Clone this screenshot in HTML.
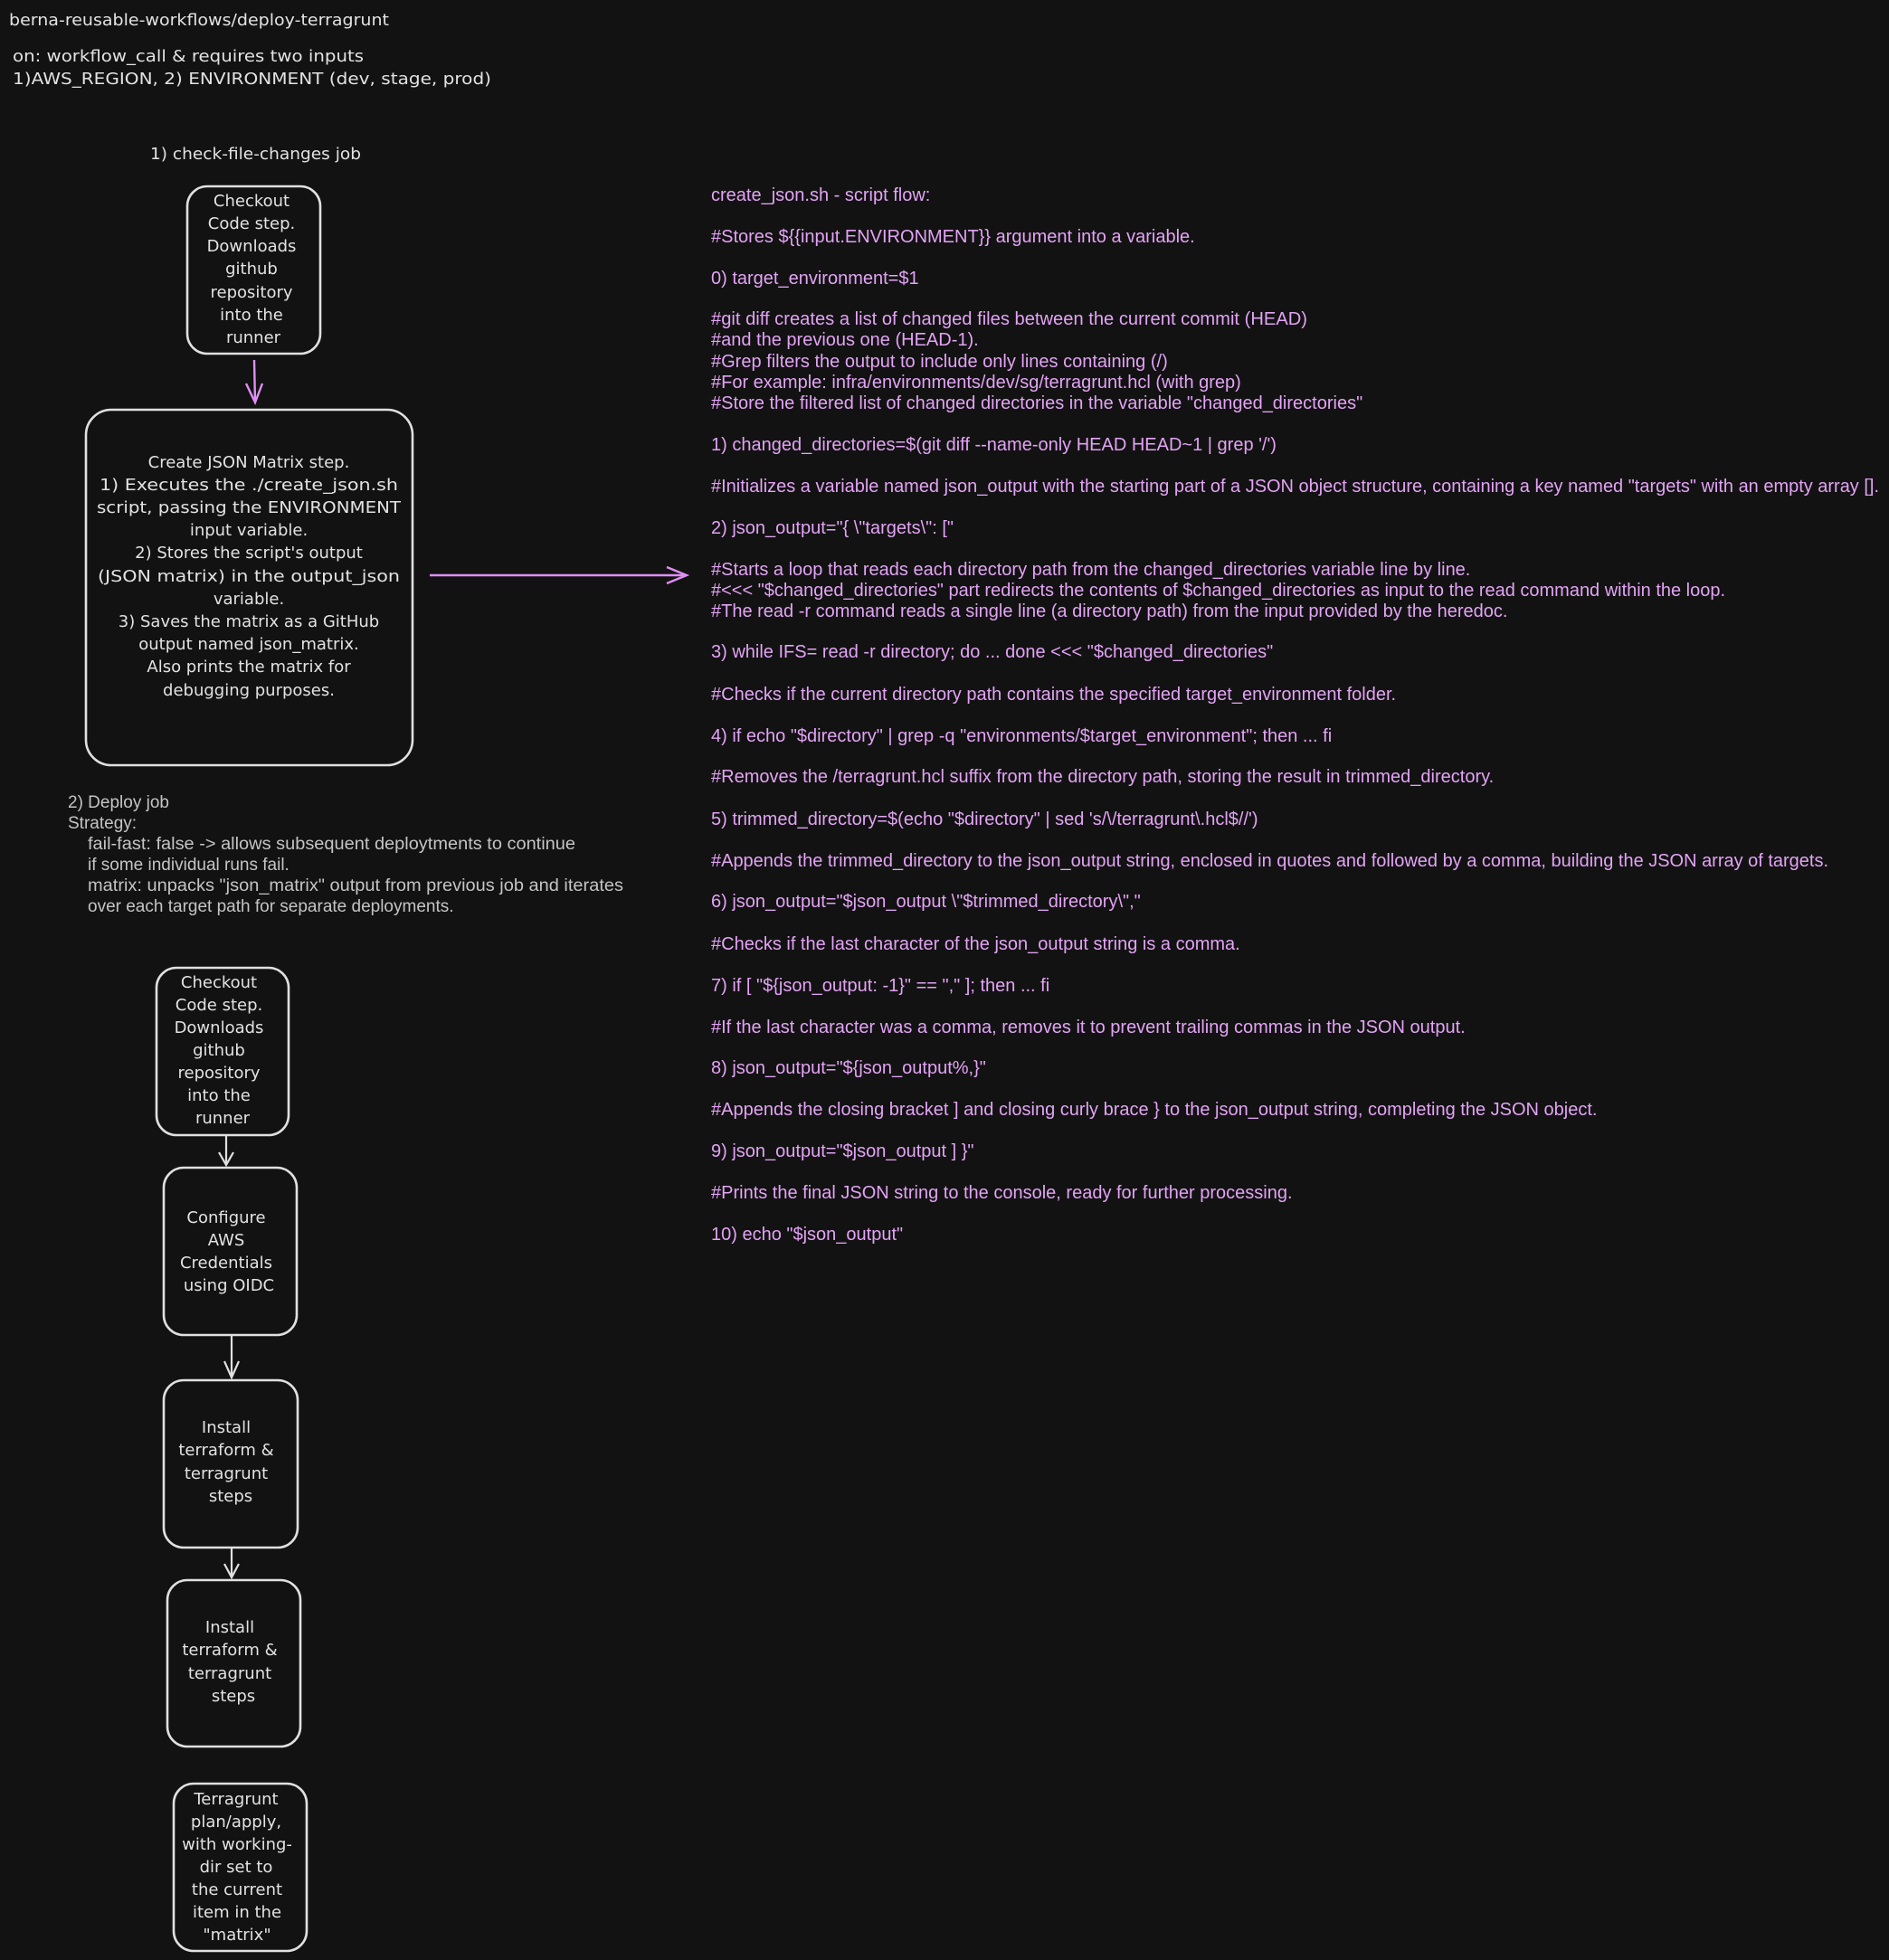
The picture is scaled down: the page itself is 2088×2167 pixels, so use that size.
<!DOCTYPE html>
<html><head><meta charset="utf-8"><style>
html,body{margin:0;padding:0;background:#121212;}
svg{display:block;}
.h{font-family:"DejaVu Sans",sans-serif;font-size:18px;fill:#e2e2e2;}
.g{font-family:"Liberation Sans",sans-serif;font-size:19px;fill:#c4c4c4;}
.p{font-family:"Liberation Sans",sans-serif;font-size:20px;fill:#e3a3f5;}
.box{fill:none;stroke:#e0e0e0;stroke-width:2.6;}
</style></head><body>
<svg width="2088" height="2167" viewBox="0 0 2088 2167" xmlns="http://www.w3.org/2000/svg">
<rect width="2088" height="2167" fill="#121212"/>
<text class="h" x="10" y="28" textLength="420" lengthAdjust="spacingAndGlyphs">berna-reusable-workflows/deploy-terragrunt</text>
<text class="h" x="14" y="68" textLength="388" lengthAdjust="spacingAndGlyphs">on: workflow_call &amp; requires two inputs</text>
<text class="h" x="14" y="93" textLength="529" lengthAdjust="spacingAndGlyphs">1)AWS_REGION, 2) ENVIRONMENT (dev, stage, prod)</text>
<text class="h" x="166" y="176" textLength="233" lengthAdjust="spacingAndGlyphs">1) check-file-changes job</text>

<rect class="box" x="207" y="206" width="147" height="185" rx="22"/>
<g class="h" text-anchor="middle">
<text x="278" y="228">Checkout</text>
<text x="278" y="253">Code step.</text>
<text x="278" y="278">Downloads</text>
<text x="278" y="303">github</text>
<text x="278" y="329">repository</text>
<text x="278" y="354">into the</text>
<text x="280" y="379">runner</text>
</g>
<line x1="281" y1="398" x2="282" y2="445" stroke="#e08ef5" stroke-width="2.4"/>
<polyline points="272,424 282,445 290,424" fill="none" stroke="#e08ef5" stroke-width="2.4"/>

<rect class="box" x="95" y="453" width="361" height="393" rx="28"/>
<g class="h" text-anchor="middle">
<text x="275" y="517">Create JSON Matrix step.</text>
<text x="275" y="542" textLength="330" lengthAdjust="spacingAndGlyphs">1) Executes the ./create_json.sh</text>
<text x="275" y="567" textLength="336" lengthAdjust="spacingAndGlyphs">script, passing the ENVIRONMENT</text>
<text x="275" y="592">input variable.</text>
<text x="275" y="617">2) Stores the script's output</text>
<text x="275" y="643" textLength="334" lengthAdjust="spacingAndGlyphs">(JSON matrix) in the output_json</text>
<text x="275" y="668">variable.</text>
<text x="275" y="693">3) Saves the matrix as a GitHub</text>
<text x="275" y="718">output named json_matrix.</text>
<text x="275" y="743">Also prints the matrix for</text>
<text x="275" y="769">debugging purposes.</text>
</g>
<line x1="475" y1="636" x2="759" y2="636" stroke="#e08ef5" stroke-width="2.4"/>
<polyline points="737,627 759,636 737,645" fill="none" stroke="#e08ef5" stroke-width="2.4"/>

<g class="g">
<text x="75" y="893">2) Deploy job</text>
<text x="75" y="916">Strategy:</text>
<text x="97" y="939" textLength="539" lengthAdjust="spacingAndGlyphs">fail-fast: false -&gt; allows subsequent deploytments to continue</text>
<text x="97" y="962">if some individual runs fail.</text>
<text x="97" y="985" textLength="592" lengthAdjust="spacingAndGlyphs">matrix: unpacks "json_matrix" output from previous job and iterates</text>
<text x="97" y="1008">over each target path for separate deployments.</text>
</g>

<rect class="box" x="173" y="1070" width="146" height="185" rx="22"/>
<g class="h" text-anchor="middle">
<text x="242" y="1092">Checkout</text>
<text x="242" y="1117">Code step.</text>
<text x="242" y="1142">Downloads</text>
<text x="242" y="1167">github</text>
<text x="242" y="1192">repository</text>
<text x="242" y="1217">into the</text>
<text x="246" y="1242">runner</text>
</g>
<line x1="250" y1="1255" x2="250" y2="1288" stroke="#e0e0e0" stroke-width="2.2"/>
<polyline points="242,1274 250,1288 258,1274" fill="none" stroke="#e0e0e0" stroke-width="2.2"/>

<rect class="box" x="181" y="1291" width="147" height="185" rx="22"/>
<g class="h" text-anchor="middle">
<text x="250" y="1352">Configure</text>
<text x="250" y="1377">AWS</text>
<text x="250" y="1402">Credentials</text>
<text x="253" y="1427">using OIDC</text>
</g>
<line x1="256" y1="1476" x2="256" y2="1523" stroke="#e0e0e0" stroke-width="2.2"/>
<polyline points="248,1505 256,1523 264,1505" fill="none" stroke="#e0e0e0" stroke-width="2.2"/>

<rect class="box" x="181" y="1526" width="148" height="185" rx="22"/>
<g class="h" text-anchor="middle">
<text x="250" y="1584">Install</text>
<text x="250" y="1609">terraform &amp;</text>
<text x="250" y="1635">terragrunt</text>
<text x="255" y="1660">steps</text>
</g>
<line x1="256" y1="1711" x2="256" y2="1744" stroke="#e0e0e0" stroke-width="2.2"/>
<polyline points="248,1729 256,1744 264,1729" fill="none" stroke="#e0e0e0" stroke-width="2.2"/>

<rect class="box" x="185" y="1747" width="147" height="184" rx="22"/>
<g class="h" text-anchor="middle">
<text x="254" y="1805">Install</text>
<text x="254" y="1830">terraform &amp;</text>
<text x="254" y="1856">terragrunt</text>
<text x="258" y="1881">steps</text>
</g>

<rect class="box" x="192" y="1972" width="147" height="185" rx="22"/>
<g class="h" text-anchor="middle">
<text x="261" y="1995">Terragrunt</text>
<text x="261" y="2020">plan/apply,</text>
<text x="262" y="2045">with working-</text>
<text x="261" y="2070">dir set to</text>
<text x="262" y="2095">the current</text>
<text x="262" y="2120">item in the</text>
<text x="262" y="2145">"matrix"</text>
</g>

<g class="p">
<text x="786" y="222">create_json.sh - script flow:</text>
<text x="786" y="268">#Stores ${{input.ENVIRONMENT}} argument into a variable.</text>
<text x="786" y="314">0) target_environment=$1</text>
<text x="786" y="359" textLength="659" lengthAdjust="spacingAndGlyphs">#git diff  creates a list of changed files between the current commit (HEAD)</text>
<text x="786" y="382">#and the previous one (HEAD-1).</text>
<text x="786" y="406">#Grep filters the output to include only lines containing (/)</text>
<text x="786" y="429">#For example: infra/environments/dev/sg/terragrunt.hcl (with grep)</text>
<text x="786" y="452">#Store the filtered list of changed directories in the variable "changed_directories"</text>
<text x="786" y="498">1) changed_directories=$(git diff --name-only HEAD HEAD~1 | grep '/')</text>
<text x="786" y="544" textLength="1291" lengthAdjust="spacingAndGlyphs">#Initializes a variable named json_output with the starting part of a JSON object structure, containing a key named "targets" with an empty array [].</text>
<text x="786" y="590">2) json_output="{ \"targets\": ["</text>
<text x="786" y="636">#Starts a loop that reads each directory path from the changed_directories variable line by line.</text>
<text x="786" y="659" textLength="1121" lengthAdjust="spacingAndGlyphs">#&lt;&lt;&lt; "$changed_directories" part redirects the contents of $changed_directories as input to the read command within the loop.</text>
<text x="786" y="682">#The read -r command reads a single line (a directory path) from the input provided by the heredoc.</text>
<text x="786" y="727">3) while IFS= read -r directory; do ... done &lt;&lt;&lt; "$changed_directories"</text>
<text x="786" y="774">#Checks if the current directory path contains the specified target_environment folder.</text>
<text x="786" y="820">4) if echo "$directory" | grep -q "environments/$target_environment"; then ... fi</text>
<text x="786" y="865">#Removes the /terragrunt.hcl suffix from the directory path, storing the result in trimmed_directory.</text>
<text x="786" y="912">5) trimmed_directory=$(echo "$directory" | sed 's/\/terragrunt\.hcl$//')</text>
<text x="786" y="958" textLength="1235" lengthAdjust="spacingAndGlyphs">#Appends the trimmed_directory to the json_output string, enclosed in quotes and followed by a comma, building the JSON array of targets.</text>
<text x="786" y="1003">6) json_output="$json_output \"$trimmed_directory\","</text>
<text x="786" y="1050">#Checks if the last character of the json_output string is a comma.</text>
<text x="786" y="1096">7) if [ "${json_output: -1}" == "," ]; then ... fi</text>
<text x="786" y="1142">#If the last character was a comma, removes it to prevent trailing commas in the JSON output.</text>
<text x="786" y="1187">8) json_output="${json_output%,}"</text>
<text x="786" y="1233">#Appends the closing bracket ] and closing curly brace } to the json_output string, completing the JSON object.</text>
<text x="786" y="1279">9) json_output="$json_output ] }"</text>
<text x="786" y="1325">#Prints the final JSON string to the console, ready for further processing.</text>
<text x="786" y="1371">10) echo "$json_output"</text>
</g>
</svg>
</body></html>
